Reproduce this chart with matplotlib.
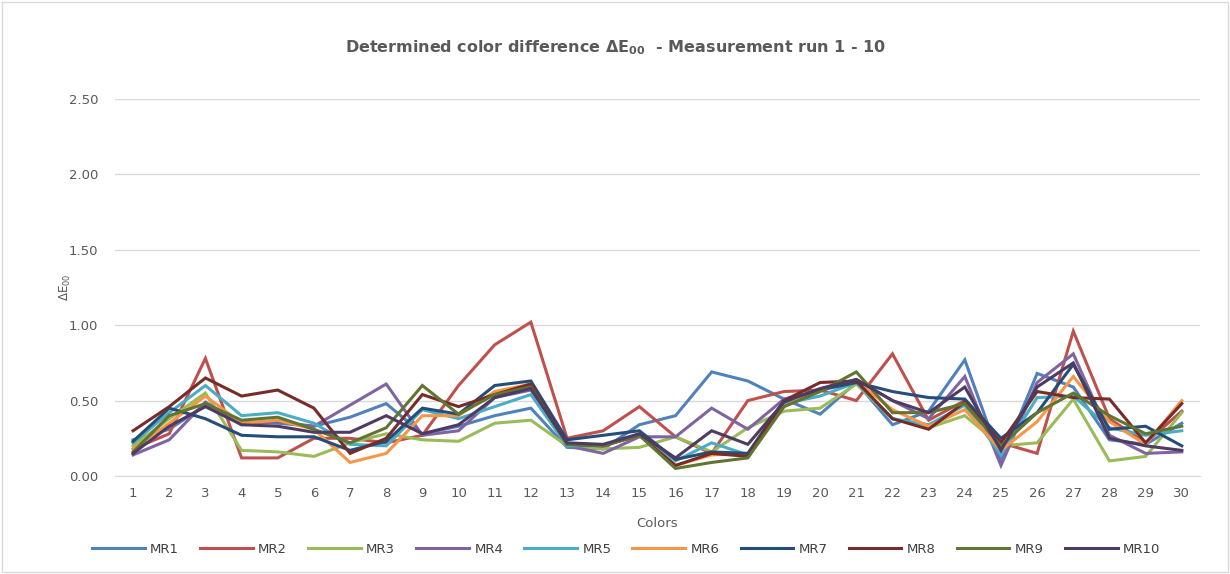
import numpy as np
import matplotlib.pyplot as plt

colors_idx = list(range(1, 31))

mr1 = [0.24, 0.31, 0.47, 0.36, 0.35, 0.33, 0.39, 0.48, 0.28, 0.33, 0.40, 0.45, 0.19, 0.18, 0.34,
       0.40, 0.69, 0.63, 0.51, 0.41, 0.62, 0.34, 0.43, 0.77, 0.10, 0.68, 0.59, 0.24, 0.21, 0.35]
mr2 = [0.18, 0.28, 0.78, 0.12, 0.12, 0.25, 0.25, 0.22, 0.27, 0.60, 0.87, 1.02, 0.25, 0.30, 0.46,
       0.26, 0.15, 0.50, 0.56, 0.57, 0.50, 0.81, 0.37, 0.50, 0.22, 0.15, 0.96, 0.38, 0.22, 0.43]
mr3 = [0.20, 0.38, 0.55, 0.17, 0.16, 0.13, 0.22, 0.28, 0.24, 0.23, 0.35, 0.37, 0.20, 0.18, 0.19,
       0.26, 0.16, 0.32, 0.43, 0.45, 0.61, 0.38, 0.32, 0.40, 0.20, 0.22, 0.51, 0.10, 0.13, 0.42]
mr4 = [0.14, 0.24, 0.49, 0.34, 0.36, 0.33, 0.47, 0.61, 0.27, 0.30, 0.52, 0.57, 0.20, 0.15, 0.26,
       0.26, 0.45, 0.31, 0.51, 0.57, 0.64, 0.50, 0.38, 0.66, 0.07, 0.62, 0.81, 0.27, 0.15, 0.16]
mr5 = [0.22, 0.42, 0.60, 0.40, 0.42, 0.35, 0.21, 0.20, 0.44, 0.38, 0.46, 0.54, 0.20, 0.20, 0.28,
       0.10, 0.22, 0.14, 0.48, 0.53, 0.62, 0.38, 0.34, 0.47, 0.14, 0.52, 0.53, 0.32, 0.27, 0.30]
mr6 = [0.18, 0.35, 0.53, 0.35, 0.37, 0.31, 0.09, 0.15, 0.40, 0.40, 0.56, 0.61, 0.21, 0.20, 0.27,
       0.07, 0.14, 0.15, 0.46, 0.57, 0.63, 0.44, 0.33, 0.44, 0.17, 0.36, 0.66, 0.36, 0.21, 0.50]
mr7 = [0.23, 0.45, 0.38, 0.27, 0.26, 0.26, 0.17, 0.23, 0.45, 0.41, 0.60, 0.63, 0.24, 0.27, 0.30,
       0.11, 0.16, 0.15, 0.50, 0.57, 0.62, 0.56, 0.52, 0.51, 0.25, 0.42, 0.74, 0.31, 0.33, 0.20]
mr8 = [0.30, 0.46, 0.65, 0.53, 0.57, 0.45, 0.15, 0.25, 0.54, 0.46, 0.54, 0.61, 0.21, 0.20, 0.27,
       0.07, 0.15, 0.13, 0.50, 0.62, 0.63, 0.38, 0.31, 0.49, 0.22, 0.56, 0.52, 0.51, 0.22, 0.48]
mr9 = [0.16, 0.40, 0.48, 0.37, 0.39, 0.31, 0.22, 0.32, 0.60, 0.41, 0.54, 0.59, 0.21, 0.20, 0.27,
       0.05, 0.09, 0.12, 0.46, 0.56, 0.69, 0.42, 0.42, 0.48, 0.20, 0.42, 0.55, 0.40, 0.28, 0.33]
mr10 = [0.15, 0.33, 0.46, 0.34, 0.33, 0.29, 0.29, 0.40, 0.28, 0.34, 0.52, 0.58, 0.22, 0.21, 0.28,
        0.12, 0.30, 0.21, 0.49, 0.58, 0.64, 0.50, 0.42, 0.59, 0.17, 0.59, 0.75, 0.25, 0.20, 0.17]

series = [mr1, mr2, mr3, mr4, mr5, mr6, mr7, mr8, mr9, mr10]
names = ['MR1', 'MR2', 'MR3', 'MR4', 'MR5', 'MR6', 'MR7', 'MR8', 'MR9', 'MR10']
line_colors = ['#4F81BD', '#C0504D', '#9BBB59', '#8064A2', '#4BACC6',
               '#F79646', '#254D7A', '#772C2A', '#5F7530', '#4D3B62']

grey = '#595959'

fig = plt.figure(figsize=(12.3, 5.74), dpi=100)
ax = fig.add_axes([0.0935, 0.1707, 0.882, 0.657])

for vals, name, c in zip(series, names, line_colors):
    ax.plot(colors_idx, vals, color=c, linewidth=2.2, label=name, solid_joinstyle='miter')

ax.set_xlim(0.5, 30.5)
ax.set_ylim(0, 2.5)
ax.set_yticks(np.arange(0, 2.51, 0.5))
ax.set_yticklabels(['%.2f' % v for v in np.arange(0, 2.51, 0.5)])
ax.set_xticks(colors_idx)
ax.grid(axis='y', color='#D9D9D9', linewidth=1)
ax.set_axisbelow(True)
for s in ['top', 'right', 'left']:
    ax.spines[s].set_visible(False)
ax.spines['bottom'].set_color('#D9D9D9')
ax.tick_params(axis='both', length=0, colors=grey, labelsize=9.5, pad=8)
ax.tick_params(axis='y', pad=12)

ax.set_xlabel('Colors', color=grey, fontsize=9.5, labelpad=12)
ax.set_ylabel(r'$\Delta$E$_{00}$', color=grey, fontsize=8.5, labelpad=-3)

fig.text(0.5, 0.917, r'Determined color difference $\mathbf{\Delta E_{00}}$  - Measurement run 1 - 10',
         ha='center', va='center', fontsize=11.5, fontweight='bold', color=grey)

ax.legend(loc='upper center', bbox_to_anchor=(0.471, -0.145), ncol=10, frameon=False,
          fontsize=9.5, labelcolor='#404040', handlelength=4.0, columnspacing=1.6,
          handletextpad=0.4)

fig.patches.append(plt.Rectangle((0.002, 0.003), 0.996, 0.994, transform=fig.transFigure,
                                 fill=False, edgecolor='#D9D9D9', linewidth=1))

fig.savefig('out.png', dpi=100)
